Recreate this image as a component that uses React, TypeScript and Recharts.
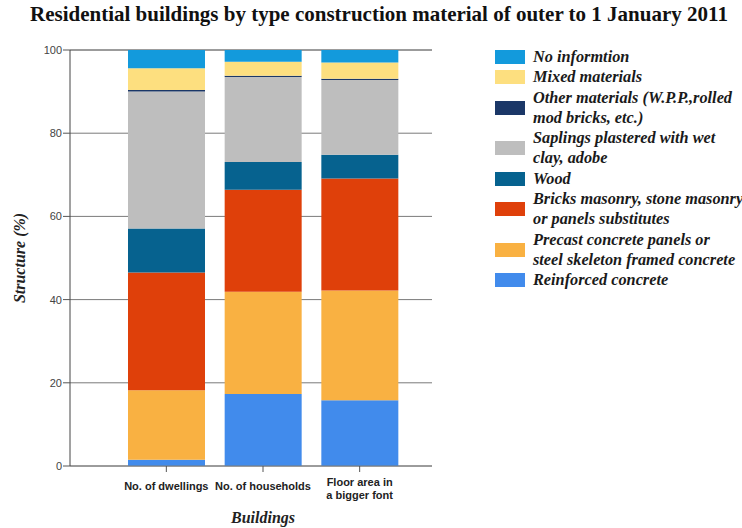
import { Bar, BarChart, CartesianGrid, Legend, XAxis, YAxis } from "recharts";

const categories = ["No. of dwellings", "No. of households", "Floor area in\na bigger font"];

// shares in %, bottom of the stack first
const reinforced = [1.5, 17.3, 15.8];
const precast = [16.7, 24.6, 26.4];
const bricks = [28.3, 24.5, 26.9];
const wood = [10.6, 6.7, 5.7];
const saplings = [32.9, 20.4, 18.0];
const other = [0.4, 0.3, 0.3];
const mixed = [5.2, 3.4, 3.9];
const noInfo = [4.4, 2.8, 3.0];

const yTicks = [0, 20, 40, 60, 80, 100];

const series = [
  { key: "reinforced", name: "Reinforced concrete", color: "#418BEC", values: reinforced },
  { key: "precast", name: "Precast concrete panels or\nsteel skeleton framed concrete", color: "#F9B142", values: precast },
  { key: "bricks", name: "Bricks masonry, stone masonry\nor panels substitutes", color: "#DF400A", values: bricks },
  { key: "wood", name: "Wood", color: "#06628F", values: wood },
  { key: "saplings", name: "Saplings plastered with wet\nclay, adobe", color: "#BEBEBE", values: saplings },
  { key: "other", name: "Other materials (W.P.P.,rolled\nmod bricks, etc.)", color: "#1B3767", values: other },
  { key: "mixed", name: "Mixed materials", color: "#FDDF7F", values: mixed },
  { key: "noInfo", name: "No informtion", color: "#139ADC", values: noInfo },
];

const data = categories.map((category, i) => {
  const row: Record<string, string | number> = { category };
  series.forEach((s) => {
    row[s.key] = s.values[i];
  });
  return row;
});

const serif = "'Liberation Serif', 'Times New Roman', serif";
const sans = "'Liberation Sans', Arial, sans-serif";

function XTick({ x, y, payload }: any) {
  const lines = String(payload.value).split("\n");
  return (
    <text x={x} y={y} textAnchor="middle" fill="#222" fontSize={11} fontWeight="bold" fontFamily={sans}>
      {lines.map((l, i) => (
        <tspan key={i} x={x} dy={i === 0 ? (lines.length > 1 ? 12 : 16) : 13}>
          {l}
        </tspan>
      ))}
    </text>
  );
}

function LegendBox() {
  return (
    <div style={{ fontFamily: serif, fontSize: 16.3, fontWeight: "bold", fontStyle: "italic", color: "#1a1a1a" }}>
      {series
        .slice()
        .reverse()
        .map((s) => (
          <div key={s.key} style={{ display: "flex", alignItems: "center" }}>
            <div style={{ width: 30, height: 14, background: s.color, marginRight: 8, flexShrink: 0 }} />
            <div style={{ whiteSpace: "pre", lineHeight: "20.3px" }}>{s.name}</div>
          </div>
        ))}
    </div>
  );
}

export default function App() {
  return (
    <div style={{ position: "absolute", top: 0, left: 0, width: 742, height: 528, background: "#fff", overflow: "hidden" }}>
      <div
        style={{
          position: "absolute",
          top: 4,
          left: 30,
          whiteSpace: "nowrap",
          fontFamily: serif,
          fontWeight: "bold",
          fontSize: 21,
          lineHeight: "21px",
          color: "#111",
        }}
      >
        Residential buildings by type construction material of outer to 1 January 2011
      </div>
      <BarChart width={742} height={528} data={data} margin={{ top: 50, right: 310, bottom: 0, left: 0 }}>
        <CartesianGrid vertical={false} stroke="#7a7a7a" />
        <XAxis
          dataKey="category"
          height={62}
          padding={{ left: 48, right: 24 }}
          tick={<XTick />}
          tickSize={6}
          tickLine={{ stroke: "#555" }}
          axisLine={{ stroke: "#7a7a7a" }}
          interval={0}
          label={{
            content: (props: any) => {
              const vb = props.viewBox;
              const cx = vb.x + 48 + (vb.width - 72) / 2;
              return (
                <text x={cx} y={523} textAnchor="middle" fontFamily={serif} fontSize={16} fontWeight="bold" fontStyle="italic" fill="#222">
                  Buildings
                </text>
              );
            },
          }}
        />
        <YAxis
          width={70}
          domain={[0, 100]}
          ticks={yTicks}
          tickSize={7}
          tickMargin={1}
          tick={{ fill: "#444", fontSize: 11, fontFamily: sans }}
          tickLine={{ stroke: "#555" }}
          axisLine={{ stroke: "#444" }}
          label={{
            content: (props: any) => {
              const vb = props.viewBox;
              const cx = vb.x + 19;
              const cy = vb.y + vb.height / 2;
              return (
                <text
                  x={cx}
                  y={cy}
                  transform={`rotate(-90 ${cx} ${cy})`}
                  textAnchor="middle"
                  dominantBaseline="central"
                  fontFamily={serif}
                  fontSize={16}
                  fontWeight="bold"
                  fontStyle="italic"
                  fill="#222"
                >
                  Structure (%)
                </text>
              );
            },
          }}
        />
        <Legend
          layout="horizontal"
          verticalAlign="middle"
          align="center"
          content={() => <LegendBox />}
          wrapperStyle={{ top: 47, left: 495, width: 247, height: 250 }}
        />
        {series.map((s) => (
          <Bar key={s.key} dataKey={s.key} name={s.name} stackId="a" fill={s.color} barSize={77} isAnimationActive={false} />
        ))}
      </BarChart>
    </div>
  );
}
